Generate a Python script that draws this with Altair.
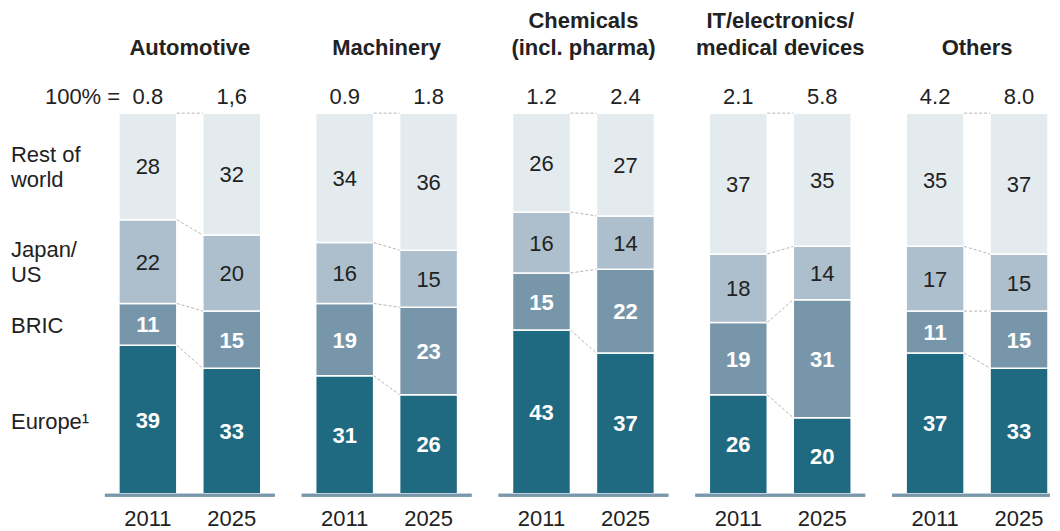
import altair as alt
import pandas as pd

# ---------------- data ----------------
title_line1 = ["", "", "Chemicals", "IT/electronics/", ""]
title_line2 = ["Automotive", "Machinery", "(incl. pharma)", "medical devices", "Others"]
years = ["2011", "2025"]
totals_2011 = ["0.8", "0.9", "1.2", "2.1", "4.2"]
totals_2025 = ["1,6", "1.8", "2.4", "5.8", "8.0"]

regions = ["Europe", "BRIC", "Japan/US", "Rest of world"]
region_line1 = ["Europe¹", "BRIC", "Japan/", "Rest of"]
region_line2 = ["", "", "US", "world"]

europe_2011 = [39, 31, 43, 26, 37]
europe_2025 = [33, 26, 37, 20, 33]
bric_2011 = [11, 19, 15, 19, 11]
bric_2025 = [15, 23, 22, 31, 15]
japan_2011 = [22, 16, 16, 18, 17]
japan_2025 = [20, 15, 14, 14, 15]
row_2011 = [28, 34, 26, 37, 35]
row_2025 = [32, 36, 27, 35, 37]

# ---------------- style ----------------
colors = ["#1f6a80", "#7896aa", "#adbfcc", "#e3ebef"]
DARK = "#222222"
BASE = "#7a98ad"
FONT = "Liberation Sans"
FS = 22
W, H = 142, 381
OVER = 14

vals = {
    "2011": [europe_2011, bric_2011, japan_2011, row_2011],
    "2025": [europe_2025, bric_2025, japan_2025, row_2025],
}
totals = {"2011": totals_2011, "2025": totals_2025}

xscale = alt.Scale(domain=years, paddingInner=26 / 84, paddingOuter=0)
yscale = alt.Scale(domain=[0, 100], nice=False, zero=True)

panels = []
n = len(title_line2)
for si in range(n):
    rows = []
    cum = {}
    for yr in years:
        c = 0
        cum[yr] = []
        for ri, reg in enumerate(regions):
            v = vals[yr][ri][si]
            rows.append({"year": yr, "region": reg, "ri": ri, "value": v,
                         "y0": c, "y1": c + v, "mid": c + v / 2,
                         "l1": region_line1[ri], "l2": region_line2[ri]})
            c += v
            cum[yr].append(c)
    df = pd.DataFrame(rows)
    conn = pd.DataFrame({"a": ["2011"] * 4, "b": ["2025"] * 4,
                         "ya": cum["2011"], "yb": cum["2025"]})
    tot = pd.DataFrame({"year": years, "t": [totals[y][si] for y in years]})
    ttl = pd.DataFrame({"t1": [title_line1[si]], "t2": [title_line2[si]]})

    base = alt.Chart(df)
    bars = base.mark_bar(stroke="white", strokeWidth=1.5).encode(
        x=alt.X("year:N", scale=xscale, axis=None),
        y=alt.Y("y0:Q", scale=yscale, axis=None),
        y2="y1:Q",
        color=alt.Color("region:N", scale=alt.Scale(domain=regions, range=colors),
                        legend=None),
    )
    txt_light = base.transform_filter("datum.ri < 2").mark_text(
        fontSize=FS, fontWeight="bold", color="white", font=FONT,
        baseline="middle", dy=1).encode(
        x=alt.X("year:N", axis=None), y=alt.Y("mid:Q", axis=None),
        text="value:Q")
    txt_dark = base.transform_filter("datum.ri >= 2").mark_text(
        fontSize=FS, color=DARK, font=FONT, baseline="middle", dy=1).encode(
        x=alt.X("year:N", axis=None), y=alt.Y("mid:Q", axis=None),
        text="value:Q")
    connectors = alt.Chart(conn).mark_rule(
        color="#b5b5b5", strokeWidth=1, strokeDash=[3, 2]).encode(
        x=alt.X("a:N", bandPosition=1, axis=None),
        x2=alt.X2("b:N", bandPosition=0),
        y=alt.Y("ya:Q", axis=None),
        y2="yb:Q",
    )
    baseline = alt.Chart(tot).mark_rule(color=BASE, strokeWidth=3).encode(
        x=alt.value(-OVER),
        x2=alt.value(W + (OVER if si < n - 1 else 2)),
        y=alt.value(H + 1.5),
    )
    years_txt = alt.Chart(tot).mark_text(
        fontSize=FS, color=DARK, font=FONT, baseline="alphabetic").encode(
        x=alt.X("year:N", axis=None), y=alt.value(H + 32), text="year:N")
    totals_txt = alt.Chart(tot).mark_text(
        fontSize=FS, color=DARK, font=FONT, baseline="alphabetic").encode(
        x=alt.X("year:N", axis=None), y=alt.value(-9), text="t:N")
    title1 = alt.Chart(ttl).mark_text(
        fontSize=FS, fontWeight="bold", color=DARK, font=FONT,
        baseline="alphabetic", align="center").encode(
        x=alt.value(W / 2), y=alt.value(-85), text="t1:N")
    title2 = alt.Chart(ttl).mark_text(
        fontSize=FS, fontWeight="bold", color=DARK, font=FONT,
        baseline="alphabetic", align="center").encode(
        x=alt.value(W / 2), y=alt.value(-58), text="t2:N")

    layers = [bars, connectors, baseline, txt_light, txt_dark, totals_txt,
              years_txt, title1, title2]

    if si == 0:
        first = df[df["year"] == "2011"]
        one = alt.Chart(first).transform_filter("datum.l2 == ''").mark_text(
            fontSize=FS, color=DARK, font=FONT, align="left",
            baseline="middle", dy=2).encode(
            x=alt.value(-108), y=alt.Y("mid:Q", axis=None), text="l1:N")
        two_a = alt.Chart(first).transform_filter("datum.l2 != ''").mark_text(
            fontSize=FS, color=DARK, font=FONT, align="left",
            baseline="middle", dy=-11.5).encode(
            x=alt.value(-108), y=alt.Y("mid:Q", axis=None), text="l1:N")
        two_b = alt.Chart(first).transform_filter("datum.l2 != ''").mark_text(
            fontSize=FS, color=DARK, font=FONT, align="left",
            baseline="middle", dy=13.5).encode(
            x=alt.value(-108), y=alt.Y("mid:Q", axis=None), text="l2:N")
        hundred = alt.Chart(pd.DataFrame({"t": ["100% ="]})).mark_text(
            fontSize=FS, color=DARK, font=FONT, align="left",
            baseline="alphabetic").encode(
            x=alt.value(-74), y=alt.value(-9), text="t:N")
        layers += [one, two_a, two_b, hundred]

    panels.append(alt.layer(*layers).properties(width=W, height=H))

chart = alt.hconcat(*panels, spacing=55, bounds="flush").properties(
    padding={"left": 3, "top": 2, "right": 0, "bottom": 0}
).configure_view(strokeWidth=0, stroke=None)

chart.save("out.html", embed_options={"renderer": "svg", "actions": False})
